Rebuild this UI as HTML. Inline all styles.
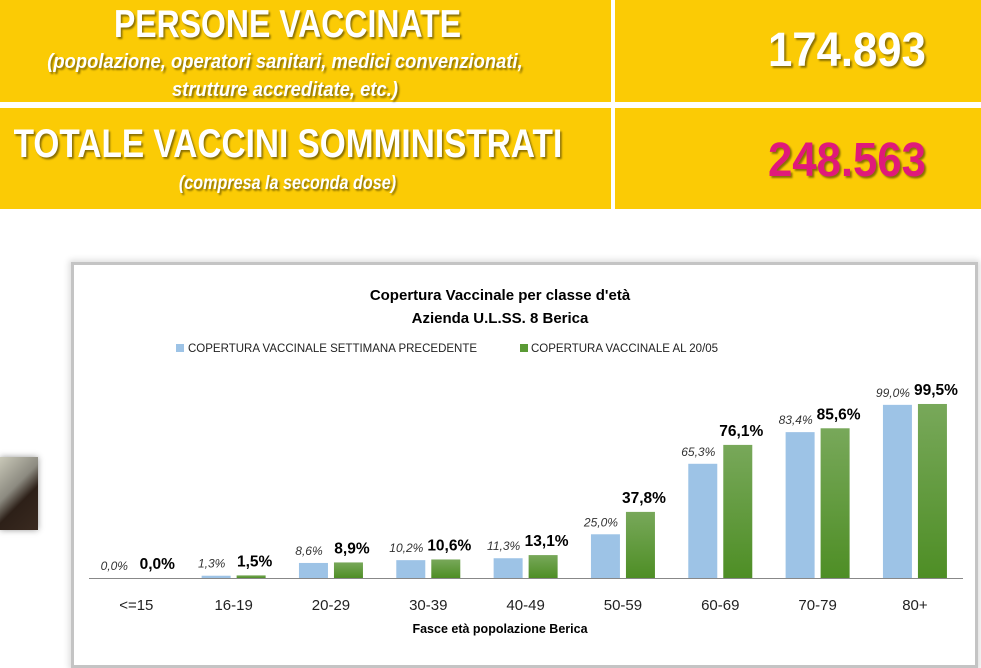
<!DOCTYPE html>
<html><head><meta charset="utf-8"><style>
body{margin:0;width:981px;height:647px;overflow:hidden;background:#fff;font-family:"Liberation Sans",sans-serif;position:relative}
.y{position:absolute;background:#FBCB05}
.t{position:absolute;color:#fff;text-align:center;text-shadow:2px 2px 2px rgba(0,0,0,.45);font-weight:bold;white-space:nowrap}
</style></head><body>
<div class="y" style="left:0;top:0;width:611px;height:102px"></div>
<div class="y" style="left:615px;top:0;width:366px;height:102px"></div>
<div class="y" style="left:0;top:108px;width:611px;height:101px"></div>
<div class="y" style="left:615px;top:108px;width:366px;height:101px"></div>
<div class="t" style="left:0;top:3px;width:575px;font-size:39px;transform:scaleX(.82);">PERSONE VACCINATE</div>
<div class="t" style="left:-20px;top:48px;width:610px;font-size:20px;font-style:italic;line-height:28px;transform:scaleX(.92)">(popolazione, operatori sanitari, medici convenzionati,<br>strutture accreditate, etc.)</div>
<div class="t" style="top:23px;font-size:48px;text-align:left;left:768px;transform:scaleX(.91);transform-origin:left">174.893</div>
<div class="t" style="left:-40px;top:122px;width:650px;font-size:40px;transform:scaleX(.835)">TOTALE VACCINI SOMMINISTRATI</div>
<div class="t" style="left:0;top:173px;width:575px;font-size:19px;font-style:italic;transform:scaleX(.85)">(compresa la seconda dose)</div>
<div class="t" style="top:133px;font-size:48px;color:#E0197A;text-align:left;left:768px;transform:scaleX(.91);transform-origin:left">248.563</div>
<div style="position:absolute;left:0;top:457px;width:38px;height:73px;background:linear-gradient(135deg,#c9c8b8 0%,#8c8a80 40%,#2d2018 60%,#3a2a20 100%);box-shadow:0 0 6px #999"></div>
<div style="position:absolute;left:71px;top:262px;width:901px;height:400px;border:3px solid #c4c4c4;background:#fff;box-shadow:0 0 6px 2px #ddd"></div>
<svg style="position:absolute;left:0;top:0" width="981" height="647" font-family="Liberation Sans, sans-serif">
<text x="500" y="300" font-size="15" font-weight="bold" text-anchor="middle">Copertura Vaccinale per classe d'età</text>
<text x="500" y="323" font-size="15" font-weight="bold" text-anchor="middle">Azienda U.L.SS. 8 Berica</text>
<rect x="176" y="344" width="8" height="8" fill="#9DC3E6"/>
<text x="188" y="352" font-size="11.5" fill="#222">COPERTURA VACCINALE SETTIMANA PRECEDENTE</text>
<rect x="520" y="344" width="8" height="8" fill="#5A9A35"/>
<text x="531" y="352" font-size="11.5" fill="#222">COPERTURA VACCINALE AL 20/05</text>
<defs><linearGradient id="g" x1="0" y1="0" x2="0" y2="1"><stop offset="0" stop-color="#78A85A"/><stop offset="1" stop-color="#4E8E25"/></linearGradient></defs>
<line x1="89" y1="578.5" x2="963" y2="578.5" stroke="#888" stroke-width="1"/>
<g id="bars"></g>
<text x="500" y="633" font-size="12.5" font-weight="bold" text-anchor="middle">Fasce età popolazione Berica</text>
</svg>
<script>
var a=[0,1.3,8.6,10.2,11.3,25.0,65.3,83.4,99.0],b=[0,1.5,8.9,10.6,13.1,37.8,76.1,85.6,99.5],
c=["<=15","16-19","20-29","30-39","40-49","50-59","60-69","70-79","80+"],s="";
function f(v){return v.toFixed(1).replace('.',',')+'%'}
for(var i=0;i<9;i++){var x=104.3+i*97.33,ha=a[i]*1.749,hb=b[i]*1.749;
s+='<rect x="'+x+'" y="'+(578-ha)+'" width="29" height="'+ha+'" fill="#9DC3E6"/>';
s+='<rect x="'+(x+35)+'" y="'+(578-hb)+'" width="29" height="'+hb+'" fill="url(#g)"/>';
s+='<text x="'+(x+10)+'" y="'+(578-ha-8)+'" font-size="12" font-style="italic" fill="#333" text-anchor="middle">'+f(a[i])+'</text>';
s+='<text x="'+(x+53)+'" y="'+(578-hb-9)+'" font-size="15.5" font-weight="bold" text-anchor="middle">'+f(b[i])+'</text>';
s+='<text x="'+(x+32)+'" y="610" font-size="15" fill="#222" text-anchor="middle">'+c[i].replace('<','&lt;')+'</text>';}
document.getElementById('bars').innerHTML=s;
</script>
</body></html>
